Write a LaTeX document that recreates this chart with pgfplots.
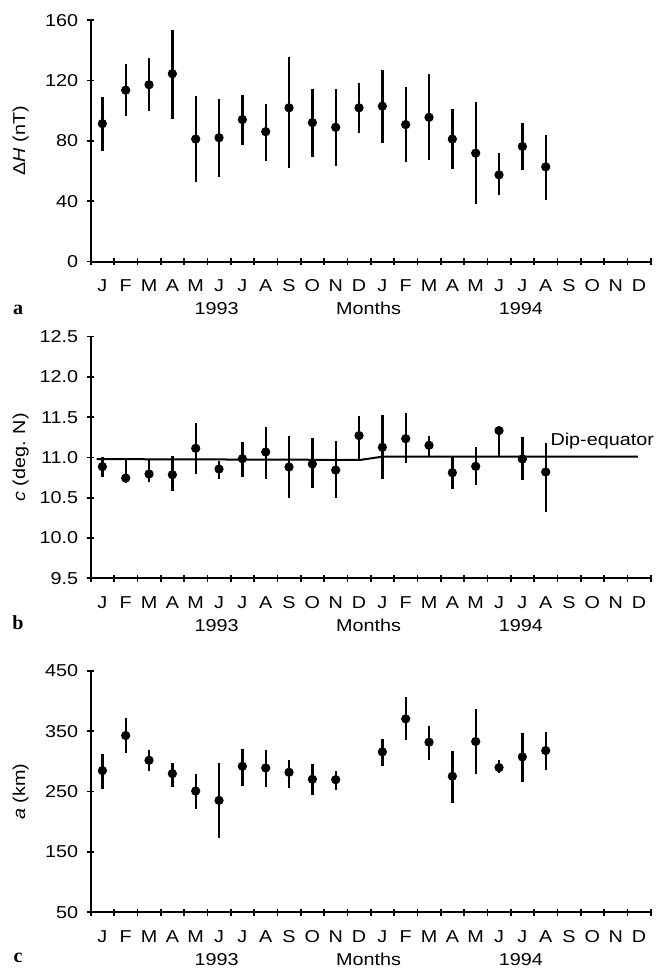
\documentclass[border=0pt]{standalone}
\usepackage{pgfplots}
\pgfplotsset{compat=1.18}
\usepackage{pgfplotstable}
\usepackage{fontspec}
\setmainfont{Liberation Sans}[FakeStretch=1.15]
\newfontfamily\panelfont{Liberation Serif}

\pgfplotstableread{
x y t b
0.5 91.4 109.2 73.2
1.5 113.6 131.0 96.3
2.5 117.2 134.7 100.1
3.5 124.5 153.6 94.8
4.5 81.2 109.9 52.6
5.5 82.1 107.9 56.1
6.5 94.1 110.3 77.2
7.5 86.1 104.7 66.6
8.5 101.9 135.8 62.1
9.5 92.1 114.1 69.2
10.5 89.0 114.5 63.7
11.5 101.9 118.5 85.2
12.5 103.0 127.2 78.8
13.5 90.8 115.8 65.9
14.5 95.6 124.3 67.5
15.5 81.2 101.4 61.5
16.5 71.9 105.6 38.2
17.5 57.5 71.9 43.9
18.5 76.3 92.1 61.0
19.5 62.8 83.9 41.1
}\dataa

\pgfplotstableread{
x y t b
0.5 10.886 11.006 10.757
1.5 10.745 10.973 10.683
2.5 10.795 10.973 10.695
3.5 10.786 11.023 10.579
4.5 11.114 11.429 10.795
5.5 10.857 10.952 10.732
6.5 10.985 11.197 10.757
7.5 11.068 11.380 10.732
8.5 10.882 11.268 10.492
9.5 10.919 11.243 10.620
10.5 10.844 11.205 10.496
11.5 11.272 11.521 10.969
12.5 11.127 11.529 10.736
13.5 11.234 11.558 10.927
14.5 11.151 11.268 11.006
15.5 10.811 11.010 10.612
16.5 10.890 11.135 10.654
17.5 11.334 11.334 11.006
18.5 10.981 11.259 10.720
19.5 10.820 11.180 10.322
}\datab

\pgfplotstableread{
x y t b
0.5 284.6 312.8 253.6
1.5 342.7 370.9 313.9
2.5 301.7 318.3 283.5
3.5 279.6 297.9 257.5
4.5 250.8 278.5 221.5
5.5 235.3 297.9 172.8
6.5 291.8 321.1 259.7
7.5 289.0 319.4 257.5
8.5 281.8 302.8 255.8
9.5 270.2 296.2 243.6
10.5 269.6 284.0 253.0
12.5 315.6 337.7 292.9
13.5 370.3 405.7 334.9
14.5 331.6 358.7 302.8
15.5 275.2 316.7 231.5
16.5 332.7 385.8 279.6
17.5 289.6 302.8 280.7
18.5 307.3 347.6 265.8
19.5 317.8 348.2 286.2
}\datac

\pgfplotsset{
 panel/.style={
  scale only axis, width=280pt, height=120.8pt,
  anchor=south west,
  axis lines*=left,
  axis line style={line width=1pt, black},
  xmin=0, xmax=24,
  xtick={0,1,...,23},
  xticklabels={J,F,M,A,M,J,J,A,S,O,N,D,J,F,M,A,M,J,J,A,S,O,N,D},
  extra x ticks={24}, extra x tick labels={},
  tick align=center,
  major tick length=3.5pt,
  tick style={line width=0.8pt, black},
  xticklabel style={anchor=north, inner sep=0pt, yshift=-7pt, xshift=5.833pt},
  yticklabel style={anchor=east, inner sep=0pt, xshift=-4.3pt},
  ylabel style={at={(axis description cs:-0.125,0.5)}, anchor=center, inner sep=0pt},
  /pgf/number format/assume math mode=true,
  font=\fontsize{8.6}{10}\selectfont,
  clip=false,
 },
 bars/.style={only marks, mark=*, mark size=2.1pt, black,
  error bars/.cd, y dir=both, y explicit, error mark=none,
  error bar style={line width=1.2pt, black}},
}

\newcommand{\yearlabels}{%
  \node[inner sep=0pt] at ([yshift=-23.5pt]axis description cs:0.225,0) {1993};
  \node[inner sep=0pt] at ([yshift=-23.5pt]axis description cs:0.496,0) {Months};
  \node[inner sep=0pt] at ([yshift=-23.5pt]axis description cs:0.768,0) {1994};
}

\begin{document}
\begin{tikzpicture}
\useasboundingbox (0,0) rectangle (329.5pt,484pt);

% panel a
\begin{axis}[panel, at={(45.35pt,353.15pt)},
  ymin=0, ymax=160, ytick={0,40,...,160},
  ylabel={Δ\textit{H} (nT)}]
\addplot[bars] table[x=x, y=y, y error plus expr=\thisrow{t}-\thisrow{y}, y error minus expr=\thisrow{y}-\thisrow{b}] {\dataa};
\yearlabels
\end{axis}

% panel b
\begin{axis}[panel, at={(45.35pt,194.85pt)},
  ymin=9.5, ymax=12.5, ytick={9.5,10,...,12.5},
  yticklabel style={/pgf/number format/.cd, fixed, fixed zerofill, precision=1},
  ylabel={\textit{c} (deg. N)}]
\addplot[line width=1pt, black] coordinates {(0.25,10.98) (11.55,10.97) (12.5,11.01) (23.45,11.01)};
\addplot[bars] table[x=x, y=y, y error plus expr=\thisrow{t}-\thisrow{y}, y error minus expr=\thisrow{y}-\thisrow{b}] {\datab};
\node[anchor=west, inner sep=0pt] at (axis cs:19.69,11.21) {Dip-equator};
\yearlabels
\end{axis}

% panel c
\begin{axis}[panel, at={(45.35pt,27.85pt)},
  ymin=50, ymax=450, ytick={50,150,...,450},
  ylabel={\textit{a} (km)}]
\addplot[bars] table[x=x, y=y, y error plus expr=\thisrow{t}-\thisrow{y}, y error minus expr=\thisrow{y}-\thisrow{b}] {\datac};
\yearlabels
\end{axis}

\node[font=\panelfont\bfseries\fontsize{10}{11}\selectfont] at (9pt,329pt) {a};
\node[font=\panelfont\bfseries\fontsize{10}{11}\selectfont] at (9pt,172.5pt) {b};
\node[font=\panelfont\bfseries\fontsize{10}{11}\selectfont] at (9pt,5pt) {c};
\end{tikzpicture}
\end{document}
